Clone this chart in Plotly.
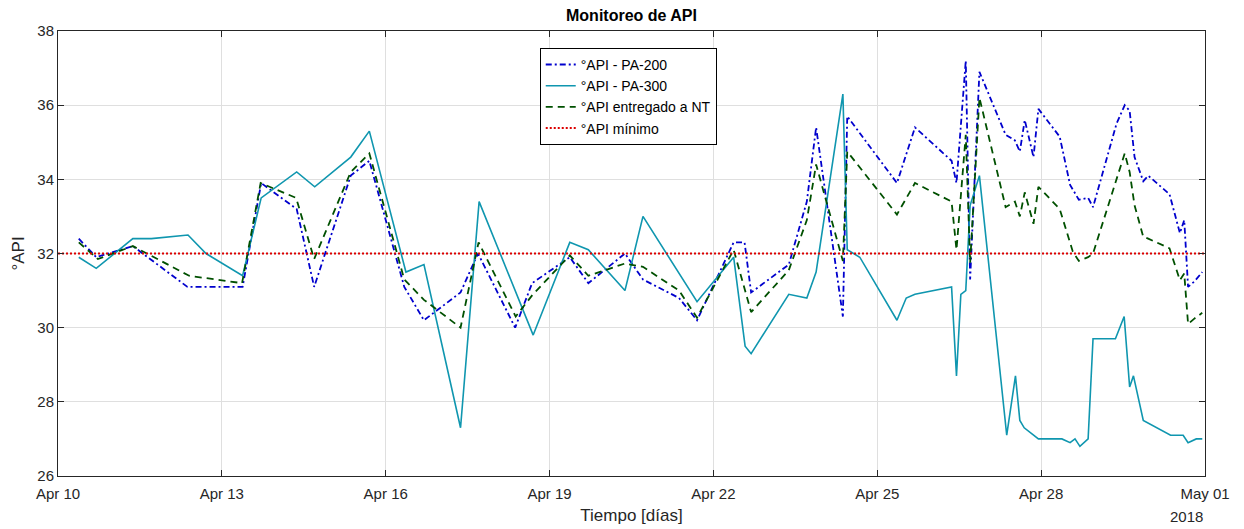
import pandas as pd
import plotly.graph_objects as go

START = pd.Timestamp("2018-04-10")

# days after Apr 10 00:00 and values
t_pa200 = [0.38, 0.70, 1.37, 2.37, 3.38, 3.72, 4.37, 4.69, 5.36, 5.70, 6.34, 6.70, 7.37, 7.69,
           8.37, 8.68, 9.37, 9.71, 10.38, 10.71, 11.37, 11.70, 12.37, 12.57, 12.69, 13.38, 13.71,
           13.88, 14.37, 14.45, 15.36, 15.69, 16.36, 16.45, 16.62, 16.70, 16.87, 17.35, 17.52,
           17.61, 17.70, 17.86, 17.95, 18.34, 18.53, 18.69, 18.86, 18.95, 19.38, 19.53, 19.62,
           19.71, 19.87, 19.96, 20.35, 20.54, 20.62, 20.69, 20.81, 20.95]
v_pa200 = [32.4, 31.9, 32.2, 31.1, 31.1, 33.9, 33.2, 31.1, 34.1, 34.5, 31.1, 30.2, 30.95, 32.0,
           30.0, 31.2, 31.9, 31.2, 32.0, 31.3, 30.8, 30.2, 32.3, 32.3, 30.95, 31.7, 33.4,
           35.4, 30.3, 35.7, 33.9, 35.4, 34.5, 33.9, 37.2, 31.3, 36.9, 35.2, 35.05,
           34.75, 35.6, 34.6, 35.9, 35.15, 33.85, 33.45, 33.5, 33.25, 35.5, 36.0, 35.85,
           34.6, 33.95, 34.1, 33.6, 32.55, 32.9, 31.1, 31.25, 31.5]

t_pa300 = [0.38, 0.70, 1.37, 1.71, 2.38, 2.71, 3.38, 3.72, 4.37, 4.70, 5.36, 5.70, 6.37, 6.70,
           7.37, 7.71, 8.70, 9.37, 9.71, 10.38, 10.71, 11.70, 12.37, 12.58, 12.69, 13.38, 13.71,
           13.88, 14.37, 14.45, 14.68, 15.36, 15.53, 15.69, 16.36, 16.45, 16.53, 16.62, 16.70,
           16.87, 17.37, 17.53, 17.61, 17.69, 17.95, 18.38, 18.53, 18.62, 18.71, 18.86, 18.95,
           19.36, 19.52, 19.62, 19.69, 19.87, 20.37, 20.60, 20.69, 20.84, 20.95]
v_pa300 = [31.9, 31.6, 32.4, 32.4, 32.5, 32.0, 31.4, 33.5, 34.2, 33.8, 34.6, 35.3, 31.5, 31.7,
           27.3, 33.4, 29.8, 32.3, 32.1, 31.0, 33.0, 30.7, 31.9, 29.5, 29.3, 30.9, 30.8,
           31.5, 36.3, 32.1, 31.9, 30.2, 30.8, 30.9, 31.1, 28.7, 30.9, 31.0, 33.3,
           34.1, 27.1, 28.7, 27.5, 27.3, 27.0, 27.0, 26.9, 27.0, 26.8, 27.0, 29.7,
           29.7, 30.3, 28.4, 28.7, 27.5, 27.1, 27.1, 26.9, 27.0, 27.0]

t_nt = [0.38, 0.73, 1.37, 2.40, 3.37, 3.71, 4.36, 4.69, 5.36, 5.70, 6.34, 6.70, 7.37, 7.70,
        8.38, 8.68, 9.37, 9.71, 10.38, 10.71, 11.37, 11.70, 12.37, 12.69, 13.38, 13.71, 13.88,
        14.37, 14.45, 15.36, 15.69, 16.36, 16.45, 16.62, 16.70, 16.87, 17.35, 17.52, 17.61,
        17.70, 17.86, 17.95, 18.34, 18.58, 18.69, 18.86, 18.95, 19.38, 19.53, 19.62, 19.71,
        19.87, 19.96, 20.35, 20.54, 20.62, 20.69, 20.81, 20.95]
v_nt = [32.3, 31.85, 32.2, 31.4, 31.2, 33.9, 33.5, 31.85, 34.2, 34.7, 31.3, 30.75, 30.0, 32.3,
        30.3, 30.87, 31.95, 31.4, 31.73, 31.64, 31.0, 30.27, 32.1, 30.42, 31.55, 32.9, 34.4,
        31.8, 34.75, 33.05, 33.9, 33.4, 32.1, 35.2, 31.75, 36.2, 33.25, 33.4, 33.0,
        33.65, 32.8, 33.8, 33.2, 32.05, 31.8, 31.9, 32.0, 34.0, 34.7, 34.2, 33.3,
        32.45, 32.4, 32.14, 31.28, 31.46, 30.1, 30.25, 30.4]

t_min = [0.0, 21.0]
v_min = [32.0, 32.0]

tick_days = [0, 3, 6, 9, 12, 15, 18, 21]
y_ticks = [26, 28, 30, 32, 34, 36, 38]


def to_dates(days):
    return START + pd.to_timedelta(days, unit="D")


fig = go.Figure()
fig.add_trace(go.Scatter(x=to_dates(t_pa200), y=v_pa200, mode="lines", name="°API - PA-200",
                         line=dict(color="rgb(0,0,205)", width=1.8, dash="6px,3px,2px,3px")))
fig.add_trace(go.Scatter(x=to_dates(t_pa300), y=v_pa300, mode="lines", name="°API - PA-300",
                         line=dict(color="rgb(15,150,175)", width=1.6)))
fig.add_trace(go.Scatter(x=to_dates(t_nt), y=v_nt, mode="lines", name="°API entregado a NT",
                         line=dict(color="rgb(0,80,0)", width=1.8, dash="7px,5px")))
fig.add_trace(go.Scatter(x=to_dates(t_min), y=v_min, mode="lines", name="°API mínimo",
                         line=dict(color="rgb(220,0,0)", width=2, dash="2px,2px")))

tickvals = to_dates(tick_days)
ticktext = [d.strftime("%b %d") for d in tickvals]

axis_common = dict(
    showline=True, linecolor="rgb(38,38,38)", linewidth=1, mirror="ticks",
    ticks="inside", ticklen=6, tickcolor="rgb(38,38,38)",
    showgrid=True, gridcolor="rgb(223,223,223)", gridwidth=1, automargin=False,
    zeroline=False, tickfont=dict(size=15, color="rgb(38,38,38)"),
)

W, H = 1236, 521
fig.update_layout(
    width=W, height=H,
    margin=dict(l=50, r=39, t=23, b=53),
    paper_bgcolor="white", plot_bgcolor="white",
    font=dict(family="Liberation Sans, Arial, sans-serif", color="rgb(38,38,38)"),
    title=dict(text="<b>Monitoreo de API</b>", x=0.5, xref="paper", xanchor="center",
               y=1 - 7 / H, yref="container", yanchor="middle",
               font=dict(size=16, color="black")),
    xaxis=dict(range=[to_dates([0])[0], to_dates([21])[0]], tickvals=tickvals, ticktext=ticktext,
               ticklabelstandoff=4,
               title=dict(text="Tiempo [días]", font=dict(size=17), standoff=8), **axis_common),
    yaxis=dict(range=[26, 38], tickvals=y_ticks,
               title=dict(text="°API", font=dict(size=17), standoff=8), **axis_common),
    legend=dict(x=0.42, y=0.962, xanchor="left", yanchor="top",
                bgcolor="white", bordercolor="black", borderwidth=1,
                font=dict(size=14, color="black"), tracegroupgap=0, itemwidth=30),
    showlegend=True,
)
fig.add_annotation(text="2018", x=1, xref="paper", xanchor="right", y=-0.068, yref="paper",
                   yanchor="top", showarrow=False, font=dict(size=15, color="rgb(38,38,38)"))

fig.write_html("out.html")
